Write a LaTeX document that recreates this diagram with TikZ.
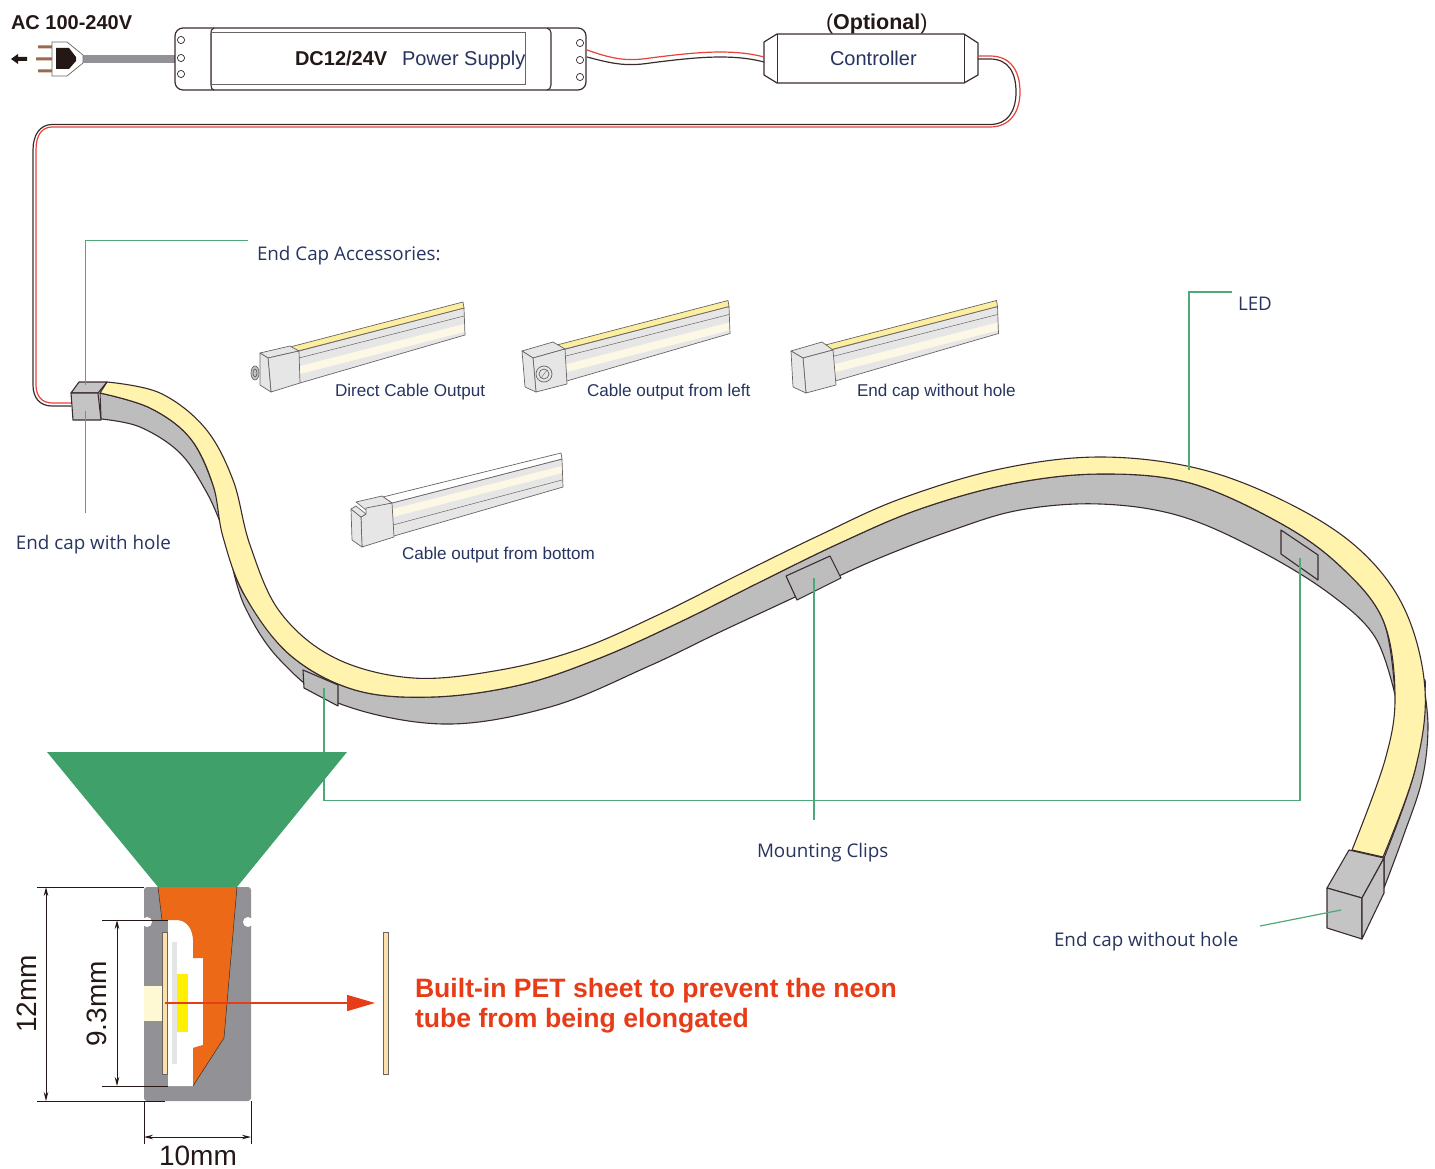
\documentclass[tikz,border=0pt]{standalone}
\usepackage{fontspec}
\setmainfont{Liberation Sans}
\newfontfamily\opensans{Open Sans}
\usetikzlibrary{arrows.meta}
\definecolor{navy}{HTML}{26345F}
\definecolor{ink}{HTML}{231815}
\definecolor{outl}{HTML}{3A2C2E}
\definecolor{leader}{HTML}{4FA877}
\definecolor{greencone}{HTML}{3FA069}
\definecolor{stripY}{HTML}{FFF3AD}
\definecolor{stripG}{HTML}{BDBDBD}
\definecolor{capG}{HTML}{C4C4C4}
\definecolor{wirered}{HTML}{E8403A}
\definecolor{hot}{HTML}{E63C17}
\definecolor{prof}{HTML}{929296}
\definecolor{barG}{HTML}{E6E6E6}
\definecolor{barL}{HTML}{6A6464}
\definecolor{barY}{HTML}{FBEE9E}
\definecolor{barC}{HTML}{FDF8E6}
\definecolor{lensO}{HTML}{EC6A17}
\definecolor{petT}{HTML}{FBE0A8}
\definecolor{chipY}{HTML}{FFF000}
\definecolor{creamB}{HTML}{FEF8D3}
\definecolor{prong}{HTML}{9A6A4A}
\tikzset{
  x=1pt,y=-1pt,
  lab/.style={anchor=base west,inner sep=0pt,outer sep=0pt},
  arial/.style={lab,text=navy,font=\fontsize{20}{24}\selectfont},
  small/.style={lab,text=navy,font=\fontsize{17.1}{20}\selectfont},
  open/.style={lab,text=navy,font=\opensans\fontsize{18.8}{23}\selectfont},
  boldk/.style={lab,text=ink,font=\bfseries\fontsize{20}{24}\selectfont},
  petlab/.style={lab,text=hot,font=\bfseries\fontsize{26.6}{30}\selectfont},
  dimt/.style={inner sep=0pt,outer sep=0pt,text=ink,font=\fontsize{28}{32}\selectfont},
  leaderl/.style={draw=leader,line width=1.2pt},
  edge/.style={draw=outl,line width=1.1pt,line join=round},
  device/.style={draw=outl,line width=1.2pt,fill=white,line join=round},
  blackw/.style={draw=outl,line width=1.2pt},
  redw/.style={draw=wirered,line width=1.2pt},
  bar/.style={draw=barL,line width=.7pt,fill=barG,line join=round},
  dim/.style={draw=ink,line width=.9pt},
  dimarrow/.style={dim,{Stealth[length=9pt,width=4.5pt]}-{Stealth[length=9pt,width=4.5pt]}},
}
\newcommand{\barbody}{%
  \fill[fill=barG] (299,351)--(464,308)--(465,335)--(300,383)--cycle;
  \fill[fill=barC] (300,366)--(464,324)--(464,332)--(300,374)--cycle;
  \draw[draw=barL,line width=.5pt] (299,358)--(464,316);
  \draw[draw=barL,line width=.7pt] (299,351)--(464,308)--(465,335)--(300,383);
  \draw[draw=barL,line width=.7pt,fill=barY] (290,347)--(463,302)--(464,308)--(298,351)--cycle;
}
\begin{document}
\begin{tikzpicture}
\useasboundingbox (0,0) rectangle (1435,1169);

% --- plug and power supply
\fill[ink] (11,59)--(18,54)--(18,57)--(27,57)--(27,61)--(18,61)--(18,64)--cycle;
\fill[prong] (38,45.5) rectangle (52,48.5) (36,57.5) rectangle (52,60.5) (38,69.5) rectangle (52,72.5);
\fill[prof] (83,55) rectangle (176,63);
\draw[line width=.7pt,fill=white,draw=barL] (52,42)--(67,42)--(83,55)--(83,63)--(67,76)--(52,76)--cycle;
\fill[ink] (56,48)--(69,48)--(76,57)--(76,61)--(69,69)--(56,69)--cycle;
\draw[device,rounded corners=8pt] (175,28) rectangle (586,90);
\draw[draw=outl,line width=1.1pt] (214,28) .. controls (211,29) and (211,31) .. (211,33) -- (211,85) .. controls (211,88) and (212,90) .. (214,90);
\draw[draw=outl,line width=1.1pt] (547,28) .. controls (550,29) and (551,31) .. (551,33) -- (551,85) .. controls (551,88) and (549,90) .. (547,90);
\draw[draw=barL,line width=1pt,fill=white] (211,33) rectangle (525,85);
\foreach \yy in {40,58,74} \draw[draw=outl,line width=.7pt,fill=white] (181,\yy) circle (3.6pt);
\foreach \yy in {43,60,77} \draw[draw=outl,line width=.7pt,fill=white] (580,\yy) circle (3.6pt);

% --- controller
\draw[device] (777,34)--(764,42)--(764,75)--(777,83)--(964,83)--(978,75)--(978,43)--(964,34)--cycle;
\draw[draw=outl,line width=1pt] (777,34)--(777,83) (964,34)--(964,83);

% --- wires
\coordinate (psR) at (587,50);
\coordinate (psB) at (587,57);
\coordinate (ctlLR) at (764,57);
\coordinate (ctlLB) at (764,62);
\coordinate (ctlRR) at (978,56);
\coordinate (ctlRB) at (978,59);
\coordinate (capR) at (71,403);
\coordinate (capB) at (71,406);
\draw[redw] (psR) .. controls (610,58) and (625,62) .. (650,58) .. controls (690,53) and (730,48) .. (ctlLR);
\draw[blackw] (psB) .. controls (610,63) and (625,67) .. (650,63) .. controls (690,58) and (730,53) .. (ctlLB);
\draw[redw] (ctlRR) -- (990,56) .. controls (1010,56) and (1020,70) .. (1020,92) .. controls (1020,112) and (1010,127) .. (990,127) -- (52,127) .. controls (42,127) and (36,135) .. (36,150) -- (36,385) .. controls (36,396) and (42,403) .. (52,403) -- (capR);
\draw[blackw] (ctlRB) -- (990,59) .. controls (1008,59) and (1016,72) .. (1016,92) .. controls (1016,112) and (1007,124.5) .. (990,124.5) -- (52,124.5) .. controls (40,124.5) and (33,135) .. (33,150) -- (33,385) .. controls (33,398) and (40,406) .. (52,406) -- (capB);

% --- strip: grey side faces
\draw[edge,fill=stripG] plot[smooth,tension=.6] coordinates {(100,393) (150,408) (190,438) (213,485) (222,527)}
  -- plot[smooth,tension=.6] coordinates {(222,527) (207,493) (180,453) (140,427) (101,419)} -- cycle;
\draw[edge,fill=stripG] plot[smooth,tension=.6] coordinates {(231,560) (245,596) (290,655) (355,690) (433,697) (520,685) (600,658) (680,622) (760,582) (840,543) (920,509) (1010,484) (1100,474) (1190,483) (1280,523) (1340,566) (1383,620) (1395,695)}
  -- plot[smooth,tension=.6] coordinates {(1395,695) (1375,637) (1330,594) (1260,551) (1180,516) (1100,504) (1020,510) (950,531) (870,562) (793,598) (720,632) (647,667) (550,707) (443,724) (338,703) (280,660) (245,607) (231,560)} -- cycle;
\draw[edge,fill=stripG] plot[smooth,tension=.6] coordinates {(1423,680) (1428,727) (1422,780) (1403,837) (1384,888)}
  -- plot[smooth,tension=.6] coordinates {(1384,858) (1415,770) (1425,690) (1423,680)} -- cycle;
% --- strip: yellow face
\draw[edge,fill=stripY] plot[smooth,tension=.6] coordinates {(107,382) (160,393) (205,428) (233,480) (250,545) (280,612) (335,658) (413,678) (500,670) (580,649) (660,614) (740,574) (820,535) (900,499) (1000,469) (1100,457) (1200,469) (1290,504) (1360,550) (1405,610) (1425,690) (1415,770) (1383,857)}
  -- plot[smooth,tension=.6] coordinates {(1352,850) (1385,760) (1395,695) (1383,620) (1340,566) (1280,523) (1190,483) (1100,474) (1010,484) (920,509) (840,543) (760,582) (680,622) (600,658) (520,685) (433,697) (355,690) (290,655) (245,596) (223,537) (213,485) (190,438) (150,408) (100,393)} -- cycle;
% clips
\draw[edge,fill=stripG] (303,670)--(338,685)--(338,706)--(304,688)--cycle;
\draw[edge,fill=stripG] (786,576)--(830,556)--(841,578)--(797,600)--cycle;
\draw[edge,fill=stripG] (1281,530)--(1318,555)--(1318,580)--(1281,554)--cycle;
% caps
\draw[edge,fill=capG] (71,393)--(79,382)--(107,382)--(98,393)--cycle;
\draw[edge,fill=capG] (71,393)--(98,393)--(101,420)--(73,420)--cycle;
\draw[edge,fill=capG] (1327,888)--(1349,850)--(1384,858)--(1362,898)--cycle;
\draw[edge,fill=capG] (1327,888)--(1362,898)--(1362,939)--(1327,928)--cycle;
\draw[edge,fill=capG] (1362,898)--(1384,858)--(1384,893)--(1362,939)--cycle;

% --- leaders
\coordinate (lEndA) at (248,240.5);
\coordinate (lEndB) at (85.5,385);
\coordinate (lHoleA) at (85.5,411);
\coordinate (lHoleB) at (85.5,513);
\coordinate (lLedA) at (1232,292);
\coordinate (lLedB) at (1189,470);
\coordinate (lClipA) at (324,688);
\coordinate (lClipB) at (814,578);
\coordinate (lClipC) at (1300,558);
\coordinate (lClipD) at (814,820);
\coordinate (lCapA) at (1260,926);
\coordinate (lCapB) at (1341,910);
\draw[leaderl] (lEndA) -| (lEndB);
\draw[leaderl] (lHoleA) -- (lHoleB);
\draw[leaderl] (lLedA) -| (lLedB);
\draw[leaderl] (lClipA) |- (lClipC |- 0,800.5) -- (lClipC);
\draw[leaderl] (lClipB) -- (lClipD);
\draw[leaderl] (lCapA) -- (lCapB);

% --- accessory bars
\barbody
\draw[bar] (260,353)--(290,346)--(299,351)--(268,358)--cycle;
\draw[bar] (268,358)--(299,351)--(300,383)--(271,392)--cycle;
\draw[bar] (260,353)--(268,358)--(271,392)--(260,385)--cycle;
\draw[bar,fill=barG!85!black] (255,373) ellipse (4pt and 7pt);
\draw[bar,fill=barG!85!black] (255,373) ellipse (2pt and 4pt);

\begin{scope}[shift={(265,-1.5)}]\barbody\end{scope}
\draw[bar] (522,351)--(553,342)--(565,349)--(533,358)--cycle;
\draw[bar] (533,358)--(565,349)--(567,384)--(536,392)--cycle;
\draw[bar] (522,351)--(533,358)--(536,392)--(525,387)--cycle;
\draw[bar] (544,374) circle (8pt);
\draw[bar] (544,374) circle (5pt);
\draw[draw=barL,line width=.4pt] (541,378)--(547,370);

\begin{scope}[shift={(533.5,-1.5)}]\barbody\end{scope}
\draw[bar] (791,351)--(822,342)--(833,350)--(803,358)--cycle;
\draw[bar] (803,358)--(833,350)--(836,385)--(806,393)--cycle;
\draw[bar] (791,351)--(803,358)--(806,393)--(793,387)--cycle;

\fill[barG] (392,503)--(562,459)--(563,487)--(394,536)--cycle;
\fill[barC] (393,509)--(562,466)--(562,473)--(393,517)--cycle;
\draw[draw=barL,line width=.5pt] (393,525)--(562,480);
\draw[draw=barL,line width=.7pt] (392,503)--(562,459)--(563,487)--(394,536);
\draw[draw=barL,line width=.7pt,fill=white] (383,497)--(561,453)--(562,459)--(392,503)--cycle;
\draw[bar] (356,502)--(382,496)--(392,503)--(366,510)--cycle;
\draw[bar] (366,508)--(392,503)--(394,537)--(362,547)--(361,517)--(366,514)--cycle;
\draw[bar] (351,509)--(361,517)--(362,547)--(352,540)--cycle;
\draw[bar] (351,509)--(356,506)--(366,514)--(361,517)--cycle;

% --- cross-section
\fill[greencone] (47,752)--(347,752)--(237,887)--(158,887)--cycle;
\fill[prof,rounded corners=3pt] (144,887)--(251,887)--(251,1101)--(144,1101)--cycle;
\fill[white] (147,922) circle (5pt) (248,922) circle (5pt);
\fill[white] (143,918.5) rectangle (147,925.5) (248,918.5) rectangle (252,925.5);
\fill[white] (168,920)--(177,920) .. controls (187,920) and (193,930) .. (193,940)--(193,958)--(203,958)--(203,1045)--(193,1048)--(193,1086)--(168,1086)--cycle;
\fill[lensO] (158,887)--(237,887)--(224,1038)--(193,1086)--(193,1048)--(203,1045)--(203,958)--(193,958)--(193,940) .. controls (193,930) and (187,920) .. (177,920)--(162,920)--cycle;
\draw[draw=outl,line width=.5pt] (158,887)--(162,920) (237,887)--(224,1038)--(193,1086);
\fill[gray!20] (172,942) rectangle (177,1064);
\fill[chipY] (177,974) rectangle (188,1032);
\fill[creamB] (144,986) rectangle (162,1021);
\draw[draw=barL,line width=.4pt,fill=petT] (162,932) rectangle (167.5,1074);
\draw[draw=barL,line width=.4pt,fill=petT] (383,932) rectangle (388.5,1074);
\coordinate (arrA) at (165,1003);
\coordinate (arrB) at (375,1003);
\draw[draw=hot,line width=1.6pt,-{Triangle[length=28pt,width=16pt]}] (arrA) -- (arrB);

% --- dimensions
\coordinate (d12a) at (37,887);
\coordinate (d12b) at (37,1101);
\coordinate (d93a) at (102,920);
\coordinate (d93b) at (102,1086);
\coordinate (d10a) at (144,1144);
\coordinate (d10b) at (251,1144);
\draw[dim] (d12a) -- (144,887) (d12b) -- (165,1101);
\draw[dim] (d93a) -- (168,920) (d93b) -- (168,1086);
\draw[dim] (d10a) -- (144,1101) (d10b) -- (251,1101);
\draw[dimarrow] (46,887) -- (46,1101);
\draw[dimarrow] (117,920) -- (117,1086);
\draw[dimarrow] (144,1137) -- (251,1137);
\node[dimt,rotate=90] (t12) at (27,994) {12mm};
\node[dimt,rotate=90] (t93) at (97,1004) {9.3mm};
\node[dimt] (t10) at (198,1156) {10mm};

% --- texts
\node[boldk] (tac) at (11,30) {AC 100-240V};
\node[lab,text=ink,font=\fontsize{21.5}{24}\selectfont] (topt) at (826,30) {(\textbf{Optional})};
\node[boldk] (tdc) at (295,66) {DC12/24V};
\node[arial] (tps) at (402,66) {Power Supply};
\node[arial] (tctl) at (830,66) {Controller};
\node[open] (tacc) at (257,261) {End Cap Accessories:};
\node[small] (t1) at (335,396) {Direct Cable Output};
\node[small] (t2) at (587,396) {Cable output from left};
\node[small] (t3) at (857,396) {End cap without hole};
\node[small] (t4) at (402,559) {Cable output from bottom};
\node[open] (thole) at (16,549) {End cap with hole};
\node[open] (tled) at (1238,310) {LED};
\node[open] (tclips) at (757,857) {Mounting Clips};
\node[open] (tcap) at (1054,946) {End cap without hole};
\node[petlab] (tpet1) at (415,997) {Built-in PET sheet to prevent the neon};
\node[petlab] (tpet2) at (415,1027) {tube from being elongated};
\end{tikzpicture}
\end{document}
